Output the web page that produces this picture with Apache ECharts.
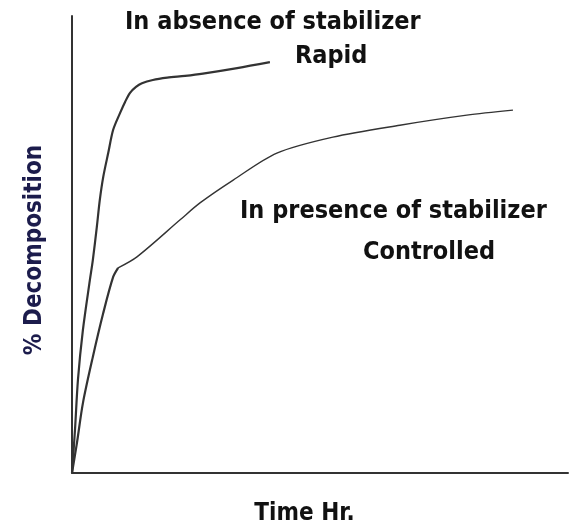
<!DOCTYPE html>
<html>
<head>
<meta charset="utf-8">
<script src="https://cdn.jsdelivr.net/npm/echarts@6/dist/echarts.min.js"></script>
<style>
  html, body { margin: 0; padding: 0; background: #fff; }
  #chart { width: 571px; height: 528px; }
</style>
</head>
<body>
<div id="chart"></div>
<script>
// curve points: [time, % decomposition], both on a 0-100 scale
const rapidData = [
  [0, 0], [0.6, 9.4], [1.2, 20.4], [2.2, 31.3], [3.6, 42.2], [4.2, 46.6],
  [5.0, 53.8], [5.6, 59.7], [6.3, 64.8], [7.3, 70.0], [8.3, 75.1], [9.7, 78.8],
  [10.7, 81.2], [11.7, 83.2], [12.9, 84.5], [14.1, 85.3], [16.3, 86.0],
  [19.2, 86.5], [22.8, 86.9], [26.4, 87.4], [33.3, 88.6], [39.9, 89.9]
];
// with stabilizer: steep start up to the kink, then a slow rise
const controlledLower = [
  [0, 0], [1.0, 6.6], [2.2, 15.3], [4.2, 25.4], [6.3, 35.0], [8.3, 42.9], [9.3, 44.9]
];
const controlledUpper = [
  [9.3, 44.9], [13.1, 47.3], [21.8, 55.4], [25.8, 59.1], [32.5, 64.1],
  [41.3, 70.0], [52.6, 73.5], [66.1, 76.1], [79.6, 78.3], [88.9, 79.4]
];

const labels = {
  rapidTitle: "In absence of stabilizer",
  rapid: "Rapid",
  controlledTitle: "In presence of stabilizer",
  controlled: "Controlled",
  xName: "Time Hr.",
  yName: "% Decomposition",
};

const chart = echarts.init(document.getElementById("chart"));

const FONT = "DejaVu Sans Condensed";
const textFont = {
  fontFamily: FONT,
  fontWeight: "bold",
  fontSize: 25,
  fill: "#111",
};

const option = {
  animation: false,
  grid: { left: 72, right: 3, top: 16, bottom: 55, outerBoundsMode: "none" },
  xAxis: {
    type: "value",
    min: 0,
    max: 100,
    name: labels.xName,
    nameLocation: "middle",
    nameGap: 29,
    nameTextStyle: {
      fontFamily: FONT,
      fontWeight: "bold",
      fontSize: 24,
      color: "#111",
      padding: [0, 31, 0, 0],
    },
    axisLine: { lineStyle: { color: "#333", width: 2 } },
    axisTick: { show: false },
    axisLabel: { show: false },
    splitLine: { show: false },
  },
  yAxis: {
    type: "value",
    min: 0,
    max: 100,
    name: labels.yName,
    nameLocation: "middle",
    nameRotate: 90,
    nameGap: 25,
    nameTextStyle: {
      fontFamily: FONT,
      fontWeight: "bold",
      fontSize: 24,
      color: "#1c1c4c",
      padding: [0, 11, 0, 0],
    },
    axisLine: { show: true, lineStyle: { color: "#333", width: 2 } },
    axisTick: { show: false },
    axisLabel: { show: false },
    splitLine: { show: false },
  },
  series: [
    {
      name: "Rapid",
      type: "line",
      data: rapidData,
      smooth: 0.3,
      symbol: "none",
      lineStyle: { color: "#333", width: 2.2 },
    },
    {
      name: "Controlled lower",
      type: "line",
      data: controlledLower,
      smooth: 0.3,
      symbol: "none",
      lineStyle: { color: "#333", width: 2.2 },
    },
    {
      name: "Controlled upper",
      type: "line",
      data: controlledUpper,
      smooth: 0.3,
      symbol: "none",
      lineStyle: { color: "#333", width: 1.4 },
    },
  ],
  graphic: [
    { type: "text", left: 125, top: 10, style: { ...textFont, text: labels.rapidTitle } },
    { type: "text", left: 295, top: 44, style: { ...textFont, text: labels.rapid } },
    { type: "text", left: 240, top: 199, style: { ...textFont, text: labels.controlledTitle } },
    { type: "text", left: 363, top: 240, style: { ...textFont, text: labels.controlled } },
  ],
};

chart.setOption(option);
</script>
</body>
</html>
